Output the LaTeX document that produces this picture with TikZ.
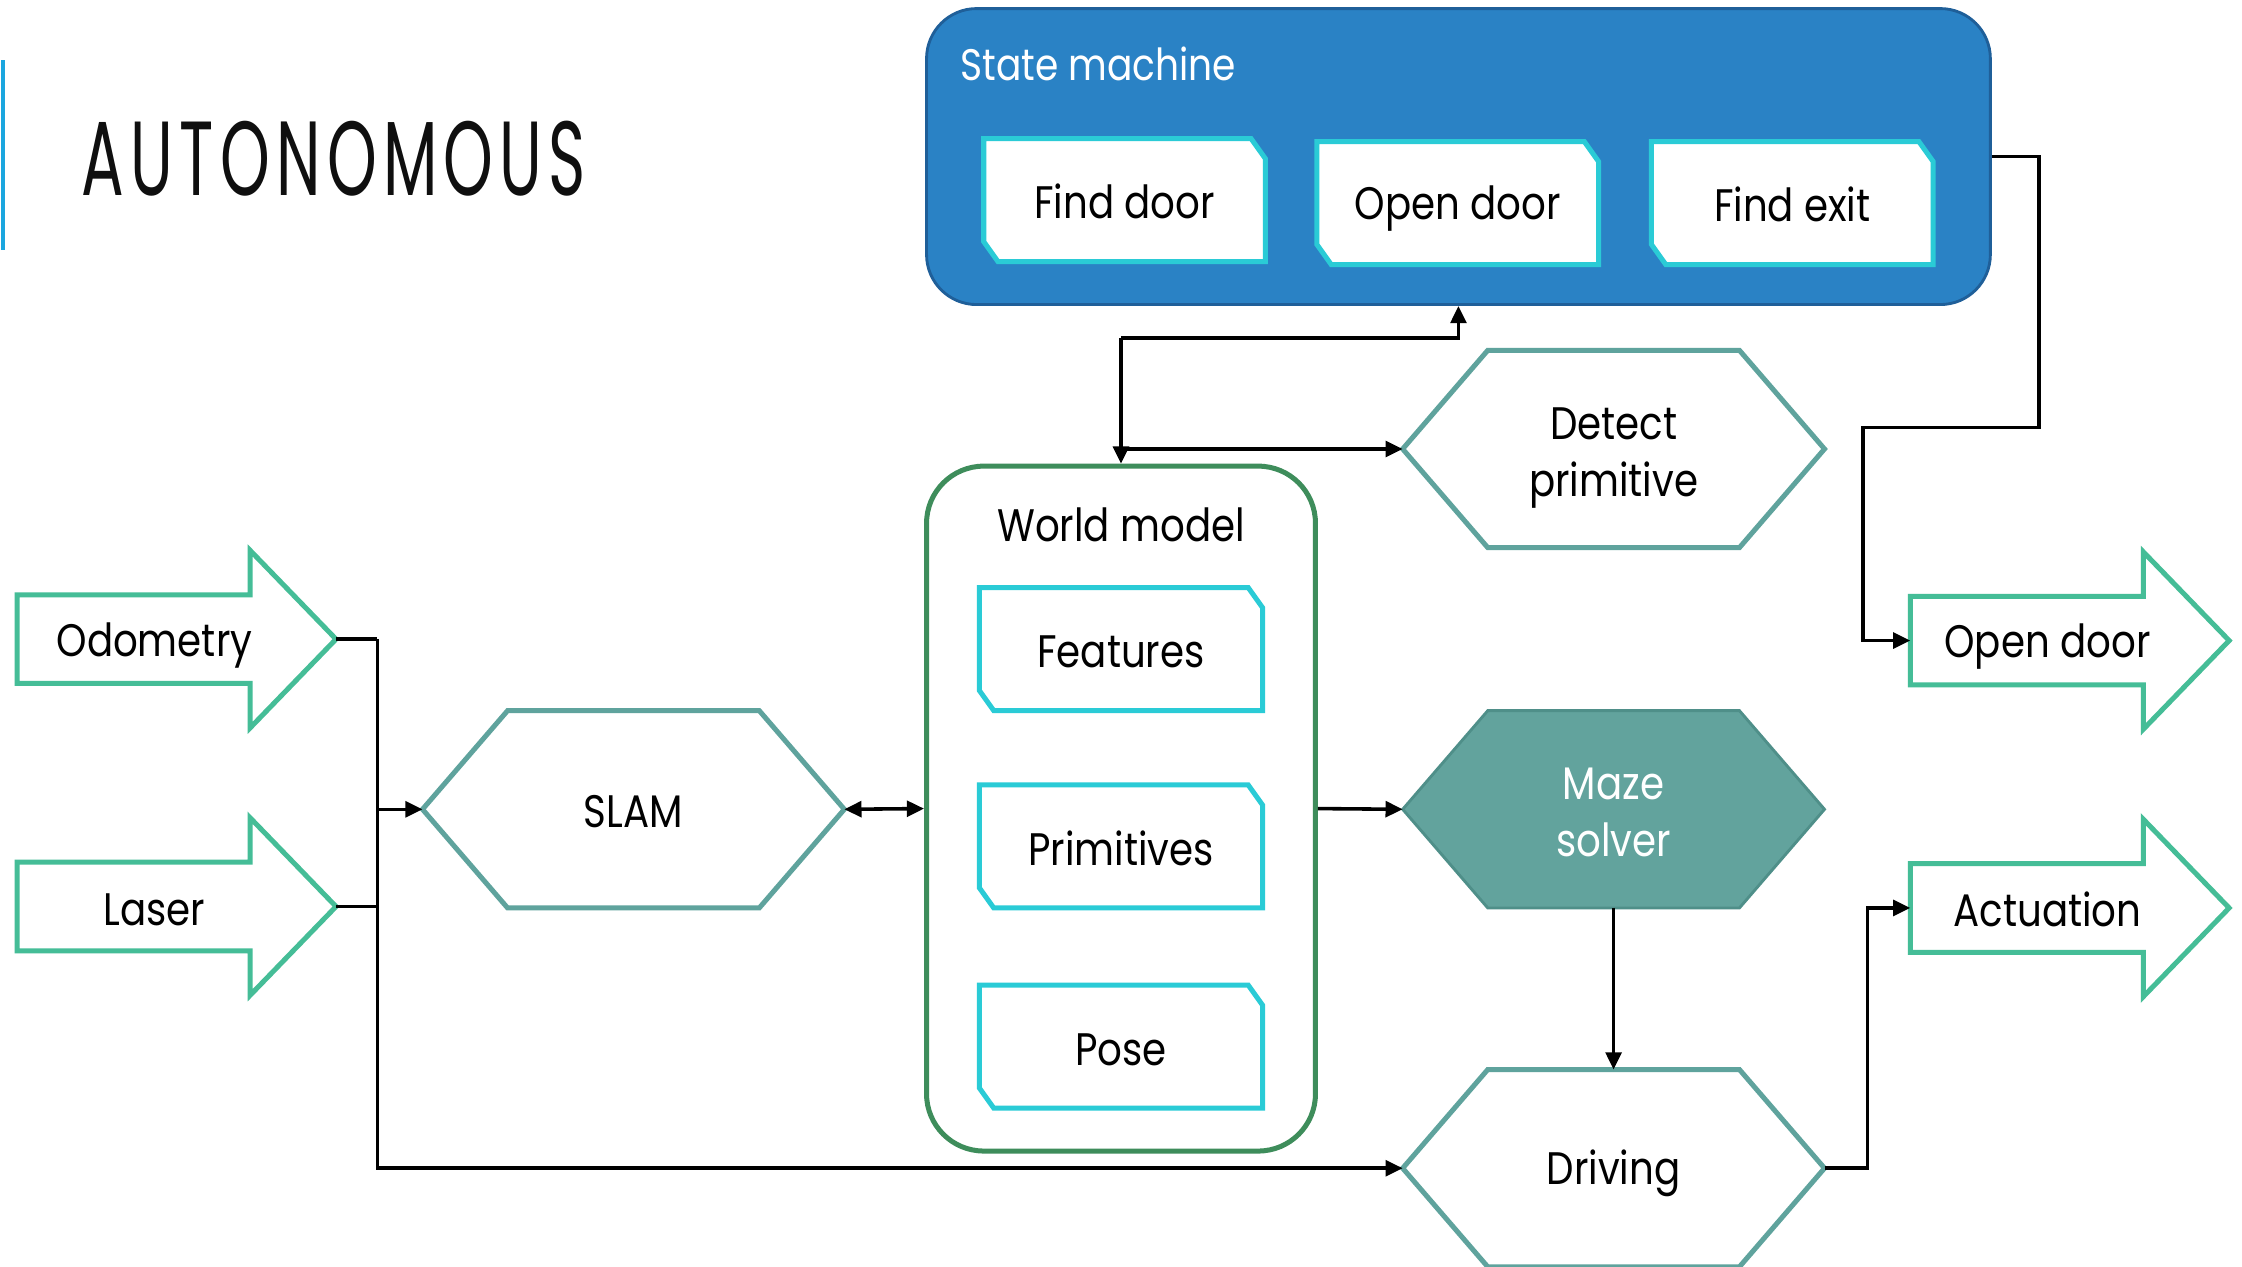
\documentclass[tikz,border=0pt]{standalone}
\usepackage{fontspec}
\setmainfont[FakeStretch=0.85]{Poppins}
\newfontfamily\titlefont[FakeStretch=0.6,LetterSpace=6]{Poppins}
\usetikzlibrary{arrows.meta,calc}
\definecolor{smblue}{HTML}{2A82C5}
\definecolor{smborder}{HTML}{1F5F99}
\definecolor{cyanb}{HTML}{2ACBD6}
\definecolor{hexc}{HTML}{5FA39D}
\definecolor{mazefill}{HTML}{62A39D}
\definecolor{mazeborder}{HTML}{4F8F89}
\definecolor{barc}{HTML}{45BD97}
\definecolor{wmgreen}{HTML}{3E8D5B}
\definecolor{titlebar}{HTML}{1BA6DF}
\newcommand\lstrut{\rule[-6bp]{0pt}{38bp}}
\newcommand\hexa[6]{%
  \path[#4] ({#2-147.5},#3) -- ({#2-88},{#3-69}) -- ({#2+88},{#3-69}) -- ({#2+147.5},#3) -- ({#2+88},{#3+69}) -- ({#2-88},{#3+69}) -- cycle;
  \node[inner sep=0pt, outer sep=0pt, minimum width=295bp, minimum height=138bp] (#1) at (#2,#3) {};
  \node[lbl, #6] (#1-t) at (#2,#3) {#5};}
\newcommand\snip[6]{%
  \path[snipst] (#2,#3) -- ({#4-10},#3) -- (#4,{#3+14}) -- (#4,#5) -- ({#2+10},#5) -- (#2,{#5-14}) -- cycle;
  \node[lbl, minimum width={(#4-#2)*1bp}, minimum height={(#5-#3)*1bp}] (#1) at ({(#2+#4)/2},{(#3+#5)/2}) {#6};}
\newcommand\barrow[4]{%
  \path[barst] (#2,{#3-31}) -- ({#2+163},{#3-31}) -- ({#2+163},{#3-62}) -- ({#2+223},#3) -- ({#2+163},{#3+62}) -- ({#2+163},{#3+31}) -- (#2,{#3+31}) -- cycle;
  \node[inner sep=0pt, outer sep=0pt, minimum width=223bp, minimum height=124bp] (#1) at ({#2+111.5},#3) {};
  \node[lbl] (#1-t) at ({#2+96},#3) {#4};}
\begin{document}
\begin{tikzpicture}[x=1bp,y=-1bp,
  lbl/.style={inner sep=0pt, outer sep=0pt, align=center, font=\fontsize{32}{40}\selectfont, execute at begin node=\lstrut},
  snipst/.style={draw=cyanb, fill=white, line width=3.5bp, line join=miter},
  hexst/.style={draw=hexc, fill=white, line width=3.5bp},
  mazest/.style={draw=mazeborder, fill=mazefill, line width=2bp},
  barst/.style={draw=barc, fill=white, line width=3.5bp, line join=miter},
  conn/.style={line width=2.5bp, -{Triangle[length=12bp,width=11bp]}},
  dconn/.style={line width=2.5bp, {Triangle[length=12bp,width=11bp]}-{Triangle[length=12bp,width=11bp]}}]
\useasboundingbox (0,0) rectangle (1568,886);
\fill[white] (0,0) rectangle (1568,886);

% title
\draw[titlebar, line width=3bp] (2,42) -- (2,175);
\node[anchor=base west, inner sep=0pt, font=\titlefont\fontsize{74}{80}\selectfont, text=black!94] (title) at (57,137) {AUTONOMOUS};

% state machine
\node[draw=smborder, fill=smblue, line width=2bp, rounded corners=35bp, minimum width=744bp, minimum height=207bp, inner sep=0pt] (sm) at (1020,109.5) {};
\node[lbl, anchor=west, text=white, font=\fontsize{31}{40}\selectfont] (smt) at (672,43) {State machine};
\snip{fd}{688}{97}{885}{183}{Find door}
\snip{odr}{921}{99}{1118}{185}{Open door}
\snip{fe}{1155}{99}{1352}{185}{Find exit}

% world model
\node[draw=wmgreen, line width=3.5bp, rounded corners=40bp, minimum width=272bp, minimum height=479bp, inner sep=0pt] (wm) at (784,565.5) {};
\node[lbl] (wmt) at (784,366) {World model};
\snip{feat}{685}{411}{883}{497}{Features}
\snip{prim}{685}{549}{883}{635}{Primitives}
\snip{pose}{685}{689}{883}{775}{Pose}

% hexagons
\hexa{det}{1128.5}{314}{hexst}{Detect\\primitive\lstrut}{yshift=-6bp}
\hexa{maze}{1128.5}{566}{mazest}{\color{white}Maze\\\color{white}solver\lstrut}{yshift=-5bp}
\hexa{drv}{1128.5}{817}{hexst}{Driving}{}
\hexa{slam}{443}{566}{hexst}{SLAM}{}

% block arrows
\barrow{odo}{12}{447}{Odometry}
\barrow{las}{12}{634}{Laser}
\barrow{opn}{1336}{448}{Open door}
\barrow{act}{1336}{635}{Actuation}

% connectors
\coordinate (jl) at ($(odo.east)+(29,0)$);
\draw[line width=2.5bp] (odo.east) -- (jl);
\draw[conn] (jl) |- (drv.west);
\draw[line width=2.5bp] (las.east) -- (las.east -| jl);
\draw[conn] (jl |- slam.west) -- (slam.west);
\draw[dconn] (slam.east) -- (wm.west);
\draw[conn] (wm.east) -- (maze.west);
\draw[conn] (maze.south) -- (drv.north);
\coordinate (jr) at ($(drv.east)+(30,0)$);
\draw[conn] (drv.east) -- (jr) |- (act.west);
\coordinate (jt) at ($(wm.north)+(0,-88)$);
\draw[conn] (jt) -- (wm.north);
\draw[conn] (jt) -| (sm.south);
\draw[conn] (wm.north |- det.west) -- (det.west);
\coordinate (js1) at ($(sm.east)+(33,0)$);
\coordinate (js2) at (js1 |- 0,299);
\coordinate (js3) at ($(opn.west)+(-33,0)$);
\draw[conn] (sm.east) -- (js1) -- (js2) -| (js3) -- (opn.west);
\end{tikzpicture}
\end{document}
